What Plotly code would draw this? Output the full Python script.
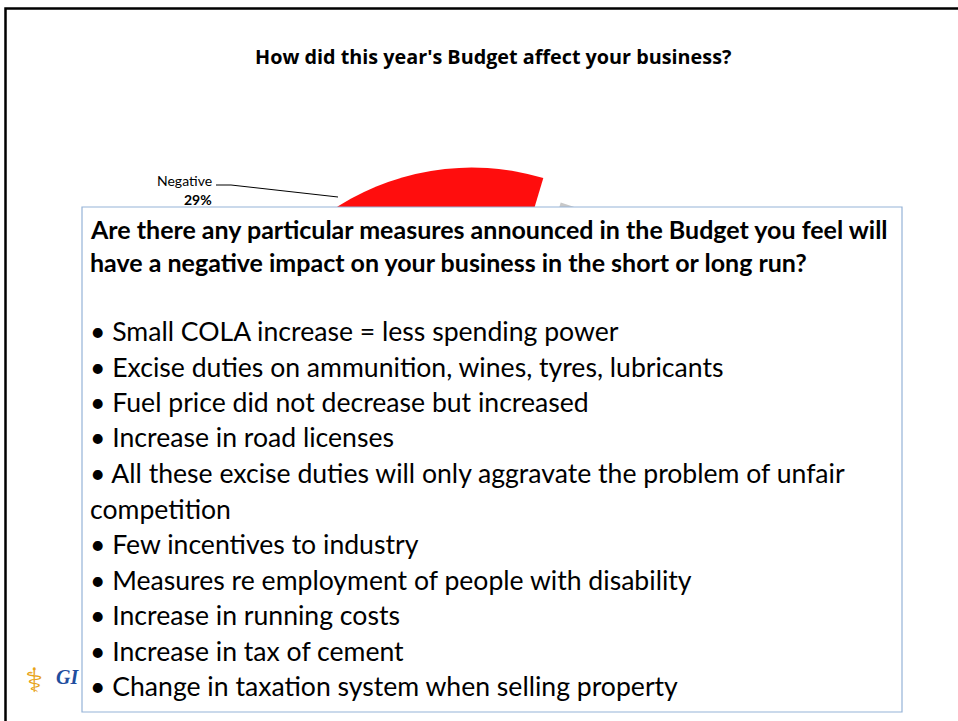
import plotly.graph_objects as go

W, H = 958, 721

# ---- data ----
slice_labels = ["Negative", "Positive", "No effect"]
slice_values = [29, 14, 57]
slice_colors = ["#FF0D0D", "#9BBB59", "#C8C8C8"]
slice_pull = [0.12, 0, 0]

chart_title = "How did this year's Budget affect your business?"
question_lines = [
    "Are there any particular measures announced in the Budget you feel will",
    "have a negative impact on your business in the short or long run?",
]
measures = [
    "• Small COLA increase = less spending power",
    "• Excise duties on ammunition, wines, tyres, lubricants",
    "• Fuel price did not decrease but increased",
    "• Increase in road licenses",
    "• All these excise duties will only aggravate the problem of unfair",
    "competition",
    "• Few incentives to industry",
    "• Measures re employment of people with disability",
    "• Increase in running costs",
    "• Increase in tax of cement",
    "• Change in taxation system when selling property",
]

FONT = "Lato"


def px(x):
    return x / W


def py(y):
    return 1 - y / H


# pie geometry (screen px)
pie_cx = 489
pie_h = 559
fig = go.Figure()
fig.add_trace(go.Pie(
    labels=slice_labels,
    values=slice_values,
    marker=dict(colors=slice_colors, line=dict(width=0)),
    pull=slice_pull,
    sort=False,
    direction="counterclockwise",
    rotation=-87.7,
    textinfo="none",
    hoverinfo="label+percent",
    showlegend=False,
    domain=dict(x=[px(pie_cx - pie_h / 2), px(pie_cx + pie_h / 2)], y=[0, pie_h / H]),
))

shapes = []
# slide frame (top and left edges)
shapes.append(dict(type="path", xref="paper", yref="paper",
                   path=f"M {px(5.5)} 0 L {px(5.5)} {py(8.5)} L 1.01 {py(8.5)}",
                   line=dict(color="#000000", width=2.5), layer="above"))
# leader line for Negative label
shapes.append(dict(type="path", xref="paper", yref="paper",
                   path=f"M {px(216)} {py(185)} L {px(231)} {py(185)} L {px(338)} {py(197)}",
                   line=dict(color="#000000", width=1), layer="above"))
# white text box covering the pie
shapes.append(dict(type="rect", xref="paper", yref="paper",
                   x0=px(82), x1=px(902), y0=py(712), y1=py(207),
                   fillcolor="#FFFFFF", line=dict(color="#95B3D7", width=1.2),
                   layer="above"))

annotations = []
annotations.append(dict(text=f"<b>{chart_title}</b>", x=px(493), y=py(57),
                        xref="paper", yref="paper", showarrow=False,
                        xanchor="center", yanchor="middle",
                        font=dict(family="Open Sans", size=19.8, color="#000000")))
pct = round(100 * slice_values[0] / sum(slice_values))
annotations.append(dict(text=f"{slice_labels[0]}", x=px(214), y=py(180),
                        xref="paper", yref="paper", showarrow=False,
                        xanchor="right", yanchor="middle",
                        font=dict(family=FONT, size=14, color="#000000")))
annotations.append(dict(text=f"<b>{pct}%</b>", x=px(198), y=py(199),
                        xref="paper", yref="paper", showarrow=False,
                        xanchor="center", yanchor="middle",
                        font=dict(family=FONT, size=14, color="#000000")))

# question lines
for i, line in enumerate(question_lines):
    annotations.append(dict(text=f"<b>{line}</b>", x=px(88), y=py(229 + 33 * i),
                            xref="paper", yref="paper", showarrow=False,
                            xanchor="left", yanchor="middle",
                            font=dict(family=FONT, size=25, color="#000000")))
# measures
for i, line in enumerate(measures):
    annotations.append(dict(text=line, x=px(88), y=py(331 + 35.5 * i),
                            xref="paper", yref="paper", showarrow=False,
                            xanchor="left", yanchor="middle",
                            font=dict(family=FONT, size=26.6, color="#000000")))

# logo (partially hidden)
annotations.append(dict(text="⚕", x=px(34), y=py(680), xref="paper", yref="paper",
                        showarrow=False, xanchor="center", yanchor="middle",
                        font=dict(family="DejaVu Sans", size=34, color="#E8A317")))
annotations.append(dict(text="<b><i>GI</i></b>", x=px(81), y=py(677), xref="paper", yref="paper",
                        showarrow=False, xanchor="right", yanchor="middle",
                        font=dict(family="Liberation Serif", size=20, color="#1F4E9E")))

fig.update_layout(
    width=W, height=H,
    margin=dict(l=0, r=0, t=0, b=0),
    paper_bgcolor="#FFFFFF", plot_bgcolor="#FFFFFF",
    shapes=shapes, annotations=annotations,
)

fig.write_html("out.html", config={"displayModeBar": False},
               post_script="document.body.style.margin='0';document.body.style.overflow='hidden';")
